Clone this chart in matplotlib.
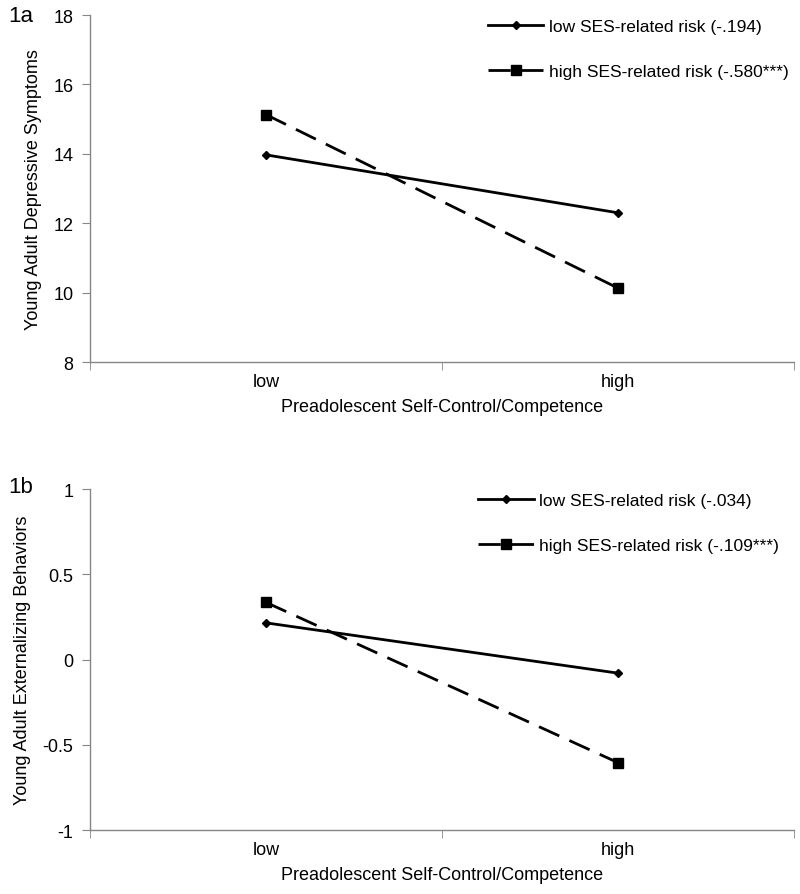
import matplotlib
matplotlib.use('Agg')
import matplotlib.pyplot as plt
from matplotlib.ticker import FixedLocator, NullFormatter

plt.rcParams['font.family'] = ['Liberation Sans', 'DejaVu Sans']

categories = ["low", "high"]
x_pos = [0.5, 1.5]

# panel 1a: depressive symptoms
dep_low_risk = [13.97, 12.30]
dep_high_risk = [15.13, 10.13]
dep_labels = ["low SES-related risk (-.194)", "high SES-related risk (-.580***)"]

# panel 1b: externalizing behaviors
ext_low_risk = [0.215, -0.08]
ext_high_risk = [0.335, -0.605]
ext_labels = ["low SES-related risk (-.034)", "high SES-related risk (-.109***)"]

fig = plt.figure(figsize=(8, 8.95), dpi=100)
ax1 = fig.add_axes([0.1125, 0.5944, 0.88, 0.3877])
ax2 = fig.add_axes([0.1125, 0.0715, 0.88, 0.381])

gray = "#868686"
fs = 13


def style(ax, lo, hi, step, ylabel, fmt):
    ax.set_xlim(0, 2)
    ax.set_ylim(lo, hi)
    for s in ["top", "right"]:
        ax.spines[s].set_visible(False)
    for s in ["left", "bottom"]:
        ax.spines[s].set_color(gray)
        ax.spines[s].set_linewidth(1.0)
    ticks = []
    v = lo
    while v <= hi + 1e-9:
        ticks.append(round(v, 3))
        v += step
    ax.set_yticks(ticks)
    ax.set_yticklabels([fmt(t) for t in ticks])
    ax.set_xticks(x_pos)
    ax.set_xticklabels(categories)
    ax.xaxis.set_minor_locator(FixedLocator([0, 1, 2]))
    ax.xaxis.set_minor_formatter(NullFormatter())
    ax.tick_params(axis='x', which='major', length=0, labelsize=fs, pad=8)
    ax.tick_params(axis='x', which='minor', length=6, color=gray, direction='out')
    ax.tick_params(axis='y', length=6, color=gray, direction='out', labelsize=fs, pad=6)
    ax.set_ylabel(ylabel, fontsize=fs, labelpad=8)
    ax.set_xlabel("Preadolescent Self-Control/Competence", fontsize=fs, labelpad=6)


def plot_panel(ax, low, high, labels, legend_x):
    ax.plot(x_pos, low, color='black', linewidth=2.0, marker='D', markersize=4.5,
            label=labels[0], clip_on=False)
    ax.plot(x_pos, high, color='black', linewidth=2.0, marker='s', markersize=6.5,
            dashes=(8, 4), label=labels[1], clip_on=False)
    ax.legend(loc='upper left', bbox_to_anchor=(legend_x, 1.035), frameon=False,
              fontsize=12.5, handlelength=3.2, labelspacing=1.75, handletextpad=0.3)


plot_panel(ax1, dep_low_risk, dep_high_risk, dep_labels, 0.543)
style(ax1, 8, 18, 2, "Young Adult Depressive Symptoms", lambda t: f"{int(t)}")

plot_panel(ax2, ext_low_risk, ext_high_risk, ext_labels, 0.529)
style(ax2, -1, 1, 0.5, "Young Adult Externalizing Behaviors",
      lambda t: f"{int(t)}" if t == int(t) else f"{t:g}")

fig.text(0.01, 0.982, "1a", fontsize=16, va='center')
fig.text(0.01, 0.455, "1b", fontsize=16, va='center')

plt.savefig("out.png", dpi=100)
